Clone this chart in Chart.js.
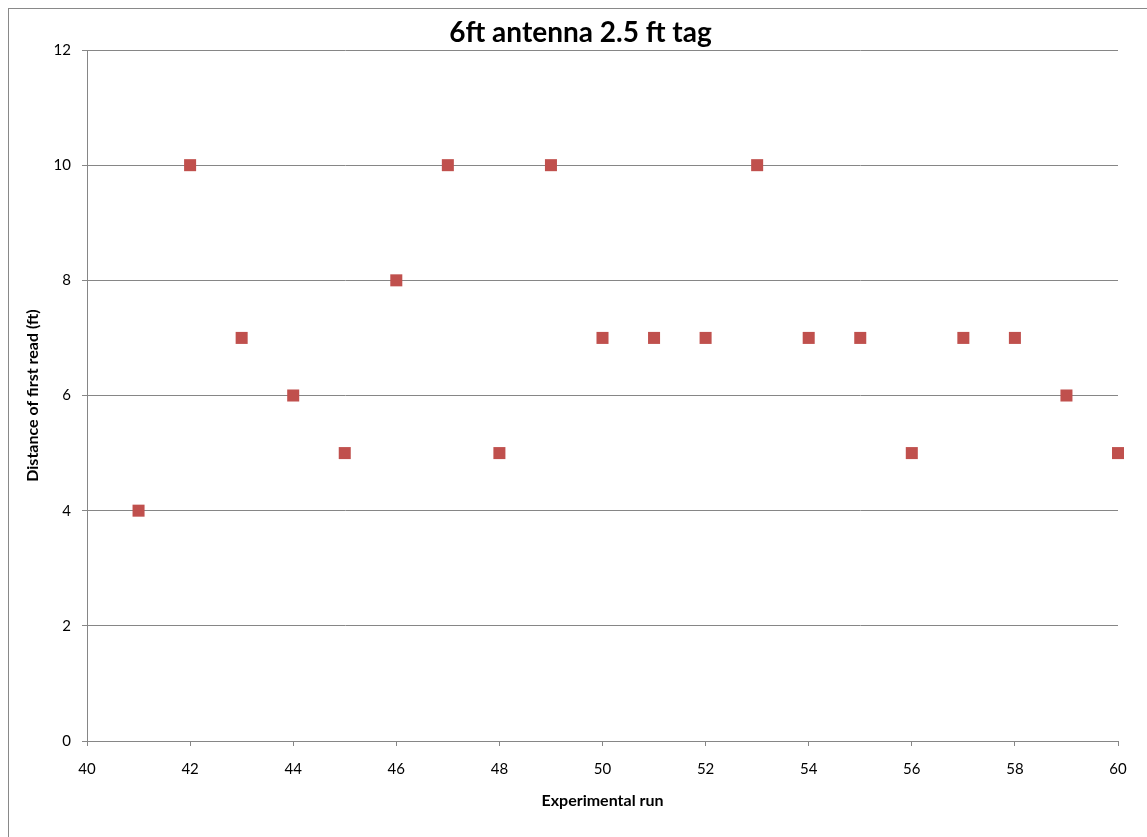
<!DOCTYPE html>
<html>
<head>
<meta charset="utf-8">
<script src="https://cdn.jsdelivr.net/npm/chart.js@4"></script>
<style>
  html, body { margin: 0; padding: 0; background: #fff; }
  #wrap { position: absolute; left: 0; top: 0; width: 1147px; height: 837px; }
</style>
</head>
<body>
<div id="wrap"><canvas id="c" width="1147" height="837"></canvas></div>
<script>
const chartTitle = "6ft antenna 2.5 ft tag";
const xAxisTitle = "Experimental run";
const yAxisTitle = "Distance of first read (ft)";
const runs = [41, 42, 43, 44, 45, 46, 47, 48, 49, 50, 51, 52, 53, 54, 55, 56, 57, 58, 59, 60];
const distances = [4, 10, 7, 6, 5, 8, 10, 5, 10, 7, 7, 7, 10, 7, 7, 5, 7, 7, 6, 5];
const xRange = [40, 60, 2];
const yRange = [0, 12, 2];

const points = runs.map((r, i) => ({ x: r, y: distances[i] }));

const outerBorder = {
  id: 'outerBorder',
  afterLayout(chart) {
    const t = chart.titleBlock;
    if (t) { t.left = 43; t.right = chart.chartArea.right; }
  },
  beforeDraw(chart) {
    const ctx = chart.ctx;
    ctx.save();
    ctx.fillStyle = '#ffffff';
    ctx.fillRect(0, 0, chart.width, chart.height);
    ctx.strokeStyle = '#898989';
    ctx.lineWidth = 1;
    ctx.strokeRect(8.5, 8.5, 1400, 1000);
    ctx.restore();
  }
};

const gridColor = '#868686';
const font = 'Lato, "Open Sans", sans-serif';

new Chart(document.getElementById('c'), {
  type: 'scatter',
  data: {
    datasets: [{
      data: points,
      backgroundColor: '#C0504D',
      borderColor: '#C0504D',
      borderWidth: 0,
      pointStyle: 'rect',
      pointRadius: 8.5,
      pointHoverRadius: 8.5,
      clip: false
    }]
  },
  options: {
    responsive: false,
    animation: false,
    events: [],
    layout: { padding: { left: 0, right: 29, top: 0, bottom: 0 } },
    plugins: {
      legend: { display: false },
      tooltip: { enabled: false },
      title: {
        display: true,
        text: chartTitle,
        color: '#000',
        font: { family: font, size: 28, weight: 'bold', lineHeight: 1.2 },
        padding: { top: 16.2, bottom: 0.2 }
      }
    },
    scales: {
      x: {
        type: 'linear',
        min: xRange[0], max: xRange[1],
        afterFit(s) { s.height = 96; },
        ticks: { stepSize: xRange[2], color: '#000', font: { family: font, size: 15 }, padding: 14, maxRotation: 0 },
        grid: { drawOnChartArea: false, drawTicks: true, tickLength: 5, color: gridColor },
        border: { display: true, color: gridColor, width: 1 },
        title: { display: true, text: xAxisTitle, color: '#000', font: { family: font, size: 16, weight: 'bold', lineHeight: 1.2 }, padding: { top: 0, bottom: 26.4 } }
      },
      y: {
        type: 'linear',
        min: yRange[0], max: yRange[1],
        afterFit(s) { s.width = 87; },
        ticks: { stepSize: yRange[2], color: '#000', font: { family: font, size: 15 }, padding: 11 },
        grid: { drawOnChartArea: true, drawTicks: true, tickLength: 5, color: gridColor },
        border: { display: true, color: gridColor, width: 1 },
        title: { display: true, text: yAxisTitle, color: '#000', font: { family: font, size: 16, weight: 'bold', lineHeight: 1.2 }, padding: { top: 23.4, bottom: 0 } }
      }
    }
  },
  plugins: [outerBorder]
});
</script>
</body>
</html>
